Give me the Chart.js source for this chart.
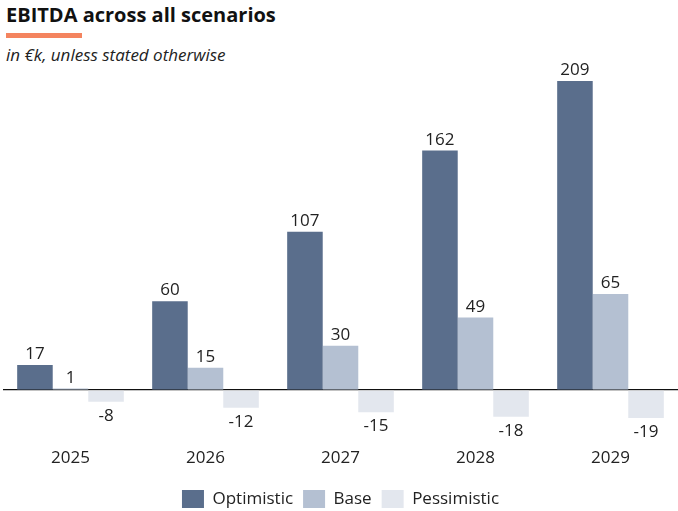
<!DOCTYPE html>
<html>
<head>
<meta charset="utf-8">
<script src="https://cdn.jsdelivr.net/npm/chart.js@4"></script>
<style>
  html, body { margin: 0; padding: 0; background: #fff; }
  body { width: 678px; height: 511px; position: relative; overflow: hidden; font-family: "Open Sans", sans-serif; }
  #title { position: absolute; left: 6px; top: 1px; font-size: 20px; font-weight: 700; color: #111; }
  #bar { position: absolute; left: 6px; top: 33px; width: 76px; height: 5px; background: #f4845f; }
  #sub { position: absolute; left: 6px; top: 43px; font-size: 17px; font-style: italic; color: #222; }
  #wrap { position: absolute; left: 0; top: 0; width: 678px; height: 518px; }
</style>
</head>
<body>
<div id="title">EBITDA across all scenarios</div>
<div id="bar"></div>
<div id="sub">in €k, unless stated otherwise</div>
<div id="wrap"><canvas id="chart"></canvas></div>
<script>
const years = ['2025', '2026', '2027', '2028', '2029'];
const optimistic = [17, 60, 107, 162, 209];
const base = [1, 15, 30, 49, 65];
const pessimistic = [-8, -12, -15, -18, -19];

const textColor = '#222';
const fontFamily = '"Open Sans", sans-serif';

// value labels above / below each bar
const valueLabels = {
    id: 'valueLabels',
    afterDatasetsDraw(chart) {
        const ctx = chart.ctx;
        ctx.save();
        ctx.font = '17px ' + fontFamily;
        ctx.fillStyle = textColor;
        ctx.textAlign = 'center';
        ctx.textBaseline = 'alphabetic';
        chart.data.datasets.forEach((ds, i) => {
            chart.getDatasetMeta(i).data.forEach((bar, j) => {
                const v = ds.data[j];
                if (v >= 0) {
                    ctx.fillText(v, bar.x, bar.y - 6);
                } else {
                    ctx.fillText(v, bar.x, bar.y + 19);
                }
            });
        });
        ctx.restore();
    }
};

new Chart(document.getElementById('chart'), {
    type: 'bar',
    data: {
        labels: years,
        datasets: [
            { label: 'Optimistic', data: optimistic, backgroundColor: '#5a6e8c' },
            { label: 'Base', data: base, backgroundColor: '#b4c0d2' },
            { label: 'Pessimistic', data: pessimistic, backgroundColor: '#e3e7ee' }
        ]
    },
    options: {
        responsive: true,
        maintainAspectRatio: false,
        animation: false,
        layout: { padding: { top: 72, left: 3, right: 0, bottom: 0 } },
        datasets: { bar: { categoryPercentage: 0.79, barPercentage: 1 } },
        scales: {
            x: {
                grid: { display: false },
                border: { display: false },
                ticks: { color: textColor, font: { family: fontFamily, size: 17 }, padding: 0 },
                afterFit: axis => { axis.height = 40; }
            },
            y: {
                min: -33.8,
                max: 215.1,
                border: { display: false },
                ticks: { display: false, stepSize: 1000 },
                grid: {
                    color: c => c.tick.value === 0 ? '#111' : 'rgba(0,0,0,0)',
                    lineWidth: 1.3,
                    drawTicks: false
                },
                afterBuildTicks: axis => { axis.ticks = [{ value: 0 }]; }
            }
        },
        plugins: {
            legend: {
                position: 'bottom',
                labels: {
                    color: textColor,
                    font: { family: fontFamily, size: 17 },
                    boxWidth: 22,
                    boxHeight: 18,
                    padding: 10
                }
            },
            tooltip: { enabled: false }
        }
    },
    plugins: [valueLabels]
});
</script>
</body>
</html>
